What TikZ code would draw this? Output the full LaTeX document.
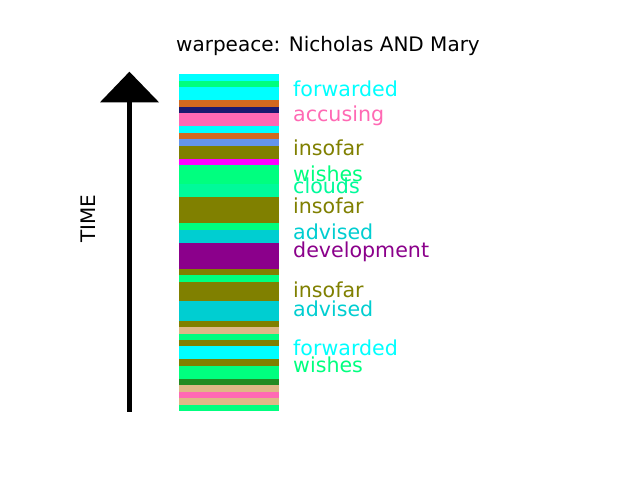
\documentclass[tikz,border=0pt]{standalone}
\usepackage{fontspec}
\setmainfont{DejaVu Sans}
\definecolor{mcyan}{HTML}{00FFFF}
\definecolor{msg}{HTML}{00FF7F}
\definecolor{mchoc}{HTML}{D2691E}
\definecolor{mmnb}{HTML}{191970}
\definecolor{mhp}{HTML}{FF69B4}
\definecolor{mcfb}{HTML}{6495ED}
\definecolor{molive}{HTML}{808000}
\definecolor{mmag}{HTML}{FF00FF}
\definecolor{mmsg}{HTML}{00FA9A}
\definecolor{mdt}{HTML}{00CED1}
\definecolor{mdm}{HTML}{8B008B}
\definecolor{mbw}{HTML}{DEB887}
\definecolor{mfg}{HTML}{228B22}
\tikzset{
  lbl/.style={anchor=base west, inner sep=0pt, font=\fontsize{20.6}{24}\selectfont},
  ttl/.style={anchor=base, inner sep=0pt, font=\fontsize{20}{24}\selectfont},
}
\begin{document}
\begin{tikzpicture}[x=1pt,y=-1pt]
\useasboundingbox (0,0) rectangle (640,480);
\fill[white] (0,0) rectangle (640,480);
% stripes
\foreach \a/\b/\c in {0/1/mcyan,1/2/msg,2/4/mcyan,4/5/mchoc,5/6/mmnb,6/8/mhp,8/9/mcyan,9/10/mchoc,10/11/mcfb,11/13/molive,13/14/mmag,14/17/msg,17/19/mmsg,19/23/molive,23/24/msg,24/26/mdt,26/30/mdm,30/31/molive,31/32/msg,32/35/molive,35/38/mdt,38/39/molive,39/40/mbw,40/41/msg,41/42/molive,42/44/mcyan,44/45/molive,45/47/msg,47/48/mfg,48/49/mbw,49/50/mhp,50/51/mbw,51/52/msg}
  \fill[\c] ({179},{74.3+\a*6.48}) rectangle ({279},{74.3+\b*6.48});
% labels
\node[lbl, text=mcyan] (l1) at (293,96.7) {forwarded};
\node[lbl, text=mhp] (l2) at (293,121.5) {accusing};
\node[lbl, text=molive] (l3) at (293,155.5) {insofar};
\node[lbl, text=msg] (l4) at (293,181.2) {wishes};
\node[lbl, text=mmsg] (l5) at (293,193.8) {clouds};
\node[lbl, text=molive] (l6) at (293,213.2) {insofar};
\node[lbl, text=mdt] (l7) at (293,239.5) {advised};
\node[lbl, text=mdm] (l8) at (293,257.5) {development};
\node[lbl, text=molive] (l9) at (293,297.8) {insofar};
\node[lbl, text=mdt] (l10) at (293,316.2) {advised};
\node[lbl, text=mcyan] (l11) at (293,355.5) {forwarded};
\node[lbl, text=msg] (l12) at (293,372.8) {wishes};
% title
\node[ttl] (title) at (328,51) {warpeace: Nicholas AND Mary};
% time arrow
\fill[black] (126.8,411.5) rectangle (131.8,100);
\fill[black] (100,102.3) -- (129.4,71.7) -- (159,102.3) -- cycle;
\node[ttl, rotate=90] (time) at (95,218.5) {TIME};
\end{tikzpicture}
\end{document}
